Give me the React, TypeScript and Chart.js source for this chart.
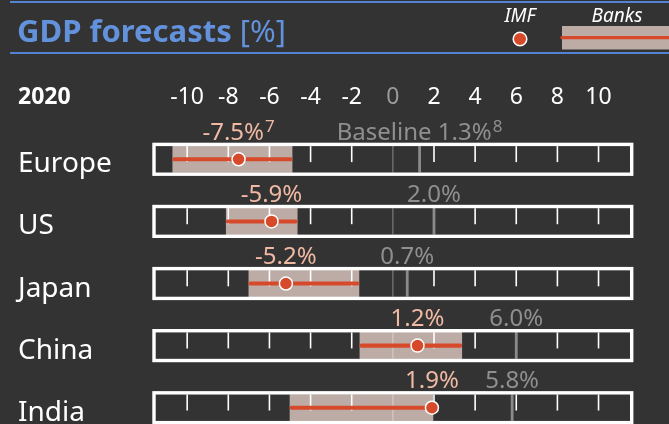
import React, { useEffect, useRef } from 'react';
import { Chart, registerables } from 'chart.js';

Chart.register(...registerables);

// ---- data ----
const title = 'GDP forecasts';
const titleUnit = '[%]';
const year = '2020';
const legendImf = 'IMF';
const legendBanks = 'Banks';
const regions = ['Europe', 'US', 'Japan', 'China', 'India'];
const imfForecast = [-7.5, -5.9, -5.2, 1.2, 1.9];
const banksLow = [-10.7, -8.1, -7.0, -1.6, -5.0];
const banksHigh = [-4.9, -4.65, -1.65, 3.35, 1.95];
const baselineForecast = [1.3, 2.0, 0.7, 6.0, 5.8];
const baselinePrefix = ['Baseline ', '', '', '', ''];
const imfNotes = ['7', '', '', '', ''];
const baselineNotes = ['8', '', '', '', ''];
const tickValues = [-10, -8, -6, -4, -2, 0, 2, 4, 6, 8, 10];

// ---- style ----
const FONT = '"Noto Sans", "DejaVu Sans", sans-serif';
const BG = '#333333';
const TITLE_BLUE = '#6392dc';
const LINE_BLUE = '#5383d2';
const RED = '#d6492a';
const TAN = '#bdaca6';
const PEACH = '#efb9a3';
const GREY_TEXT = '#8f8f8f';
const GREY_LINE = '#8a8a8a';
const HALF = 13.2;

const fmt = (v: number) => v.toFixed(1) + '%';

function drawSupLabel(ctx: CanvasRenderingContext2D, cx: number, baseY: number, main: string, sup: string, color: string) {
  ctx.font = `24px ${FONT}`;
  const wm = ctx.measureText(main).width;
  ctx.font = `17px ${FONT}`;
  const ws = sup ? ctx.measureText(sup).width + 1 : 0;
  const start = cx - (wm + ws) / 2;
  ctx.fillStyle = color;
  ctx.textAlign = 'left';
  ctx.textBaseline = 'alphabetic';
  ctx.font = `24px ${FONT}`;
  ctx.fillText(main, start, baseY);
  if (sup) {
    ctx.font = `17px ${FONT}`;
    ctx.fillText(sup, start + wm + 1, baseY - 8);
  }
}

const gdpPlugin = {
  id: 'gdpPlugin',
  beforeDraw(chart: any) {
    const ctx: CanvasRenderingContext2D = chart.ctx;
    ctx.save();
    ctx.fillStyle = BG;
    ctx.fillRect(0, 0, chart.width, chart.height);
    // header rules
    ctx.fillStyle = LINE_BLUE;
    ctx.fillRect(10, 1, chart.width - 10, 2);
    ctx.fillRect(10, 52, chart.width - 10, 2);
    // title
    ctx.fillStyle = TITLE_BLUE;
    ctx.textAlign = 'left';
    ctx.textBaseline = 'alphabetic';
    ctx.font = `bold 31px ${FONT}`;
    ctx.fillText(title, 17, 42);
    const w = ctx.measureText(title + ' ').width;
    ctx.font = `31px ${FONT}`;
    ctx.fillText(titleUnit, 17 + w, 42);
    // legend
    ctx.fillStyle = '#ffffff';
    ctx.textAlign = 'center';
    ctx.font = `italic 19px ${FONT}`;
    ctx.fillText(legendImf, 520, 22);
    ctx.fillText(legendBanks, 617, 22);
    ctx.fillStyle = TAN;
    ctx.fillRect(562, 26, chart.width - 562, 23.5);
    ctx.strokeStyle = RED;
    ctx.lineWidth = 3.3;
    ctx.lineCap = 'round';
    ctx.beginPath();
    ctx.moveTo(562, 37.7);
    ctx.lineTo(chart.width + 5, 37.7);
    ctx.stroke();
    ctx.beginPath();
    ctx.arc(520, 39, 6.8, 0, Math.PI * 2);
    ctx.fillStyle = RED;
    ctx.fill();
    ctx.lineWidth = 1.5;
    ctx.strokeStyle = '#ffffff';
    ctx.stroke();
    // year
    ctx.textAlign = 'left';
    ctx.fillStyle = '#ffffff';
    ctx.font = `bold 23px ${FONT}`;
    ctx.fillText(year, 18, 104);
    ctx.restore();
  },
  afterDatasetDraw(chart: any, args: any) {
    if (args.index !== 2) return;
    const ctx: CanvasRenderingContext2D = chart.ctx;
    const xs = chart.scales.x;
    const ys = chart.scales.y;
    const { left, right } = chart.chartArea;
    ctx.save();
    const line = (x1: number, y1: number, x2: number, y2: number) => {
      ctx.beginPath();
      ctx.moveTo(x1, y1);
      ctx.lineTo(x2, y2);
      ctx.stroke();
    };
    regions.forEach((_, i) => {
      const cy = ys.getPixelForValue(i);
      const top = cy - HALF;
      const bot = cy + HALF;
      ctx.lineCap = 'butt';
      ctx.strokeStyle = '#ffffff';
      ctx.lineWidth = 1.6;
      tickValues.forEach((v) => {
        if (v === 0) return;
        const px = xs.getPixelForValue(v);
        line(px, top, px, top + 16);
      });
      const x0 = xs.getPixelForValue(0);
      ctx.strokeStyle = 'rgba(255,255,255,0.3)';
      ctx.lineWidth = 1.4;
      line(x0, top, x0, bot);
      const bx = xs.getPixelForValue(baselineForecast[i]);
      ctx.strokeStyle = GREY_LINE;
      ctx.lineWidth = 2.8;
      line(bx, top, bx, bot);
      ctx.strokeStyle = '#ffffff';
      ctx.lineWidth = 3.4;
      ctx.strokeRect(left - 1.7, top - 1.7, right - left + 3.4, bot - top + 3.4);
    });
    ctx.restore();
  },
  afterDraw(chart: any) {
    const ctx: CanvasRenderingContext2D = chart.ctx;
    const xs = chart.scales.x;
    const ys = chart.scales.y;
    ctx.save();
    regions.forEach((name, i) => {
      const cy = ys.getPixelForValue(i);
      ctx.fillStyle = '#ffffff';
      ctx.textAlign = 'left';
      ctx.textBaseline = 'alphabetic';
      ctx.font = `28px ${FONT}`;
      ctx.fillText(name, 18, cy + 13);
      drawSupLabel(ctx, xs.getPixelForValue(imfForecast[i]), cy - 19.3, fmt(imfForecast[i]), imfNotes[i], PEACH);
      drawSupLabel(
        ctx,
        xs.getPixelForValue(baselineForecast[i]),
        cy - 19.3,
        baselinePrefix[i] + fmt(baselineForecast[i]),
        baselineNotes[i],
        GREY_TEXT
      );
    });
    ctx.restore();
  },
};

export default function App() {
  const ref = useRef<HTMLCanvasElement | null>(null);
  useEffect(() => {
    if (!ref.current) return;
    const chart = new Chart(ref.current, {
      type: 'bar',
      data: {
        datasets: [
          {
            type: 'scatter',
            label: legendImf,
            data: imfForecast.map((v, i) => ({ x: v, y: i })),
            backgroundColor: RED,
            borderColor: '#ffffff',
            pointRadius: 6.5,
            pointBorderWidth: 1.5,
            pointBackgroundColor: RED,
            pointBorderColor: '#ffffff',
          } as any,
          {
            type: 'bar',
            label: legendBanks + ' line',
            indexAxis: 'y',
            grouped: false,
            data: banksLow.map((lo, i) => ({ x: [lo, banksHigh[i]], y: i })),
            backgroundColor: RED,
            barThickness: 3.4,
            borderRadius: 1.7,
            borderSkipped: false,
          } as any,
          {
            type: 'bar',
            label: legendBanks,
            indexAxis: 'y',
            grouped: false,
            data: banksLow.map((lo, i) => ({ x: [lo, banksHigh[i]], y: i })),
            backgroundColor: TAN,
            barThickness: 26.4,
          } as any,
        ],
      },
      options: {
        indexAxis: 'y',
        animation: false,
        responsive: false,
        devicePixelRatio: 1,
        events: [],
        layout: { autoPadding: false, padding: { left: 155.7, right: 39, top: 82.4, bottom: 0 } },
        plugins: { legend: { display: false }, tooltip: { enabled: false } },
        scales: {
          x: {
            type: 'linear',
            position: 'top',
            offset: false,
            beginAtZero: false,
            bounds: 'data',
            min: -11.53,
            max: 11.53,
            grid: { display: false, drawTicks: false, offset: false },
            border: { display: false },
            afterBuildTicks: (s: any) => {
              s.ticks = tickValues.map((v) => ({ value: v }));
            },
            afterFit: (s: any) => {
              s.height = 30.6;
            },
            ticks: {
              padding: 1.5,
              autoSkip: false,
              maxRotation: 0,
              font: { size: 23, family: FONT },
              color: (c: any) => (c.tick && c.tick.value === 0 ? '#9a9a9a' : '#ffffff'),
              callback: (v: any) => String(v),
            },
          },
          y: {
            type: 'linear',
            reverse: true,
            offset: false,
            beginAtZero: false,
            bounds: 'data',
            min: -0.7456,
            max: 4.262,
            grid: { display: false, offset: false },
            display: false,
          },
        },
      } as any,
      plugins: [gdpPlugin],
    });
    return () => chart.destroy();
  }, []);
  return (
    <canvas
      ref={ref}
      width={669}
      height={424}
      style={{ position: 'fixed', left: 0, top: 0, width: 669, height: 424, display: 'block' }}
    />
  );
}
